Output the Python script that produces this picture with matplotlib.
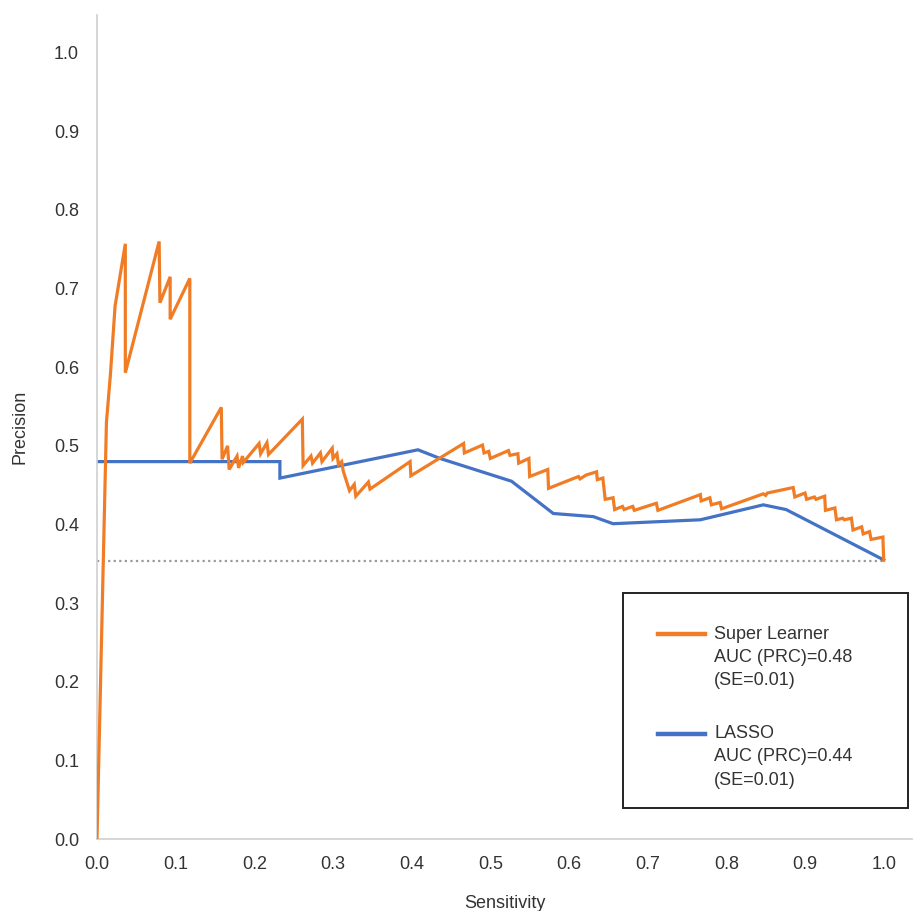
"""
Precision-recall curves: Super Learner vs LASSO.

Writes out.png
"""

import matplotlib

matplotlib.use("Agg")
import matplotlib.pyplot as plt
from matplotlib.lines import Line2D
from matplotlib.patches import Rectangle

# Super Learner PR curve (sensitivity, precision).
sl_sensitivity = [
    0.000, 0.012, 0.017, 0.023, 0.036, 0.036, 0.079, 0.080, 0.093, 0.093,
    0.118, 0.118, 0.158, 0.159, 0.166, 0.168, 0.178, 0.180, 0.185, 0.186,
    0.206, 0.208, 0.216, 0.218, 0.261, 0.262, 0.272, 0.274, 0.284, 0.286,
    0.299, 0.300, 0.305, 0.307, 0.311, 0.313, 0.321, 0.327, 0.329, 0.345,
    0.347, 0.398, 0.399, 0.466, 0.467, 0.490, 0.492, 0.498, 0.500, 0.523,
    0.525, 0.535, 0.536, 0.549, 0.550, 0.573, 0.574, 0.612, 0.614, 0.622,
    0.635, 0.636, 0.643, 0.646, 0.656, 0.658, 0.668, 0.670, 0.681, 0.683,
    0.711, 0.713, 0.767, 0.768, 0.779, 0.781, 0.792, 0.794, 0.847, 0.850,
    0.852, 0.885, 0.887, 0.900, 0.902, 0.912, 0.914, 0.925, 0.926, 0.938,
    0.940, 0.948, 0.950, 0.959, 0.961, 0.972, 0.974, 0.982, 0.984, 0.999,
    1.000,
]
sl_precision = [
    0.000, 0.530, 0.590, 0.678, 0.757, 0.593, 0.760, 0.682, 0.715, 0.661,
    0.713, 0.478, 0.549, 0.483, 0.500, 0.470, 0.487, 0.472, 0.487, 0.479,
    0.503, 0.490, 0.504, 0.489, 0.534, 0.475, 0.487, 0.478, 0.491, 0.480,
    0.497, 0.484, 0.490, 0.476, 0.480, 0.468, 0.443, 0.451, 0.436, 0.454,
    0.445, 0.480, 0.462, 0.503, 0.491, 0.501, 0.491, 0.493, 0.484, 0.494,
    0.488, 0.490, 0.478, 0.484, 0.461, 0.470, 0.446, 0.461, 0.458, 0.463,
    0.467, 0.457, 0.459, 0.432, 0.434, 0.419, 0.423, 0.419, 0.423, 0.418,
    0.427, 0.418, 0.438, 0.430, 0.434, 0.425, 0.428, 0.420, 0.439, 0.437,
    0.440, 0.447, 0.435, 0.440, 0.432, 0.435, 0.432, 0.436, 0.418, 0.421,
    0.406, 0.408, 0.406, 0.408, 0.393, 0.397, 0.388, 0.391, 0.381, 0.384,
    0.355,
]

# LASSO PR curve.
lasso_sensitivity = [0.000, 0.2325, 0.2325, 0.408, 0.436, 0.527, 0.580,
                     0.631, 0.656, 0.767, 0.847, 0.876, 1.000]
lasso_precision = [0.480, 0.480, 0.459, 0.495, 0.484, 0.455, 0.414,
                   0.410, 0.401, 0.406, 0.425, 0.419, 0.355]

# No-skill baseline (outcome prevalence).
prevalence = 0.354

sl_label = ["Super Learner", "AUC (PRC)=0.48", "(SE=0.01)"]
lasso_label = ["LASSO", "AUC (PRC)=0.44", "(SE=0.01)"]

ORANGE = "#F07D26"
BLUE = "#4472C4"
TEXT = "#333333"


def main():
    plt.rcParams["font.family"] = ["Liberation Sans", "DejaVu Sans"]

    fig = plt.figure(figsize=(9.14, 9.11), dpi=100)
    ax = fig.add_axes([97 / 914, 72 / 911, 815 / 914, 824 / 911])

    ax.plot([0, 1], [prevalence, prevalence], color="#9a9a9a", linewidth=1.6,
            linestyle=(0, (1, 1.5)), zorder=1)
    ax.plot(lasso_sensitivity, lasso_precision, color=BLUE, linewidth=2.3,
            zorder=2, solid_joinstyle="miter")
    ax.plot(sl_sensitivity, sl_precision, color=ORANGE, linewidth=2.3,
            zorder=3, solid_joinstyle="miter")

    ax.set_xlim(0, 1.036)
    ax.set_ylim(0, 1.048)
    ax.set_xticks([i / 10 for i in range(11)])
    ax.set_yticks([i / 10 for i in range(11)])
    ax.xaxis.set_major_formatter(matplotlib.ticker.FormatStrFormatter("%.1f"))
    ax.yaxis.set_major_formatter(matplotlib.ticker.FormatStrFormatter("%.1f"))
    ax.tick_params(length=0, labelsize=13, labelcolor=TEXT)
    ax.tick_params(axis="x", pad=12)
    ax.tick_params(axis="y", pad=13)

    for side in ("top", "right"):
        ax.spines[side].set_visible(False)
    for side in ("left", "bottom"):
        ax.spines[side].set_color("#cfcfcf")
        ax.spines[side].set_linewidth(1.2)

    ax.set_xlabel("Sensitivity", fontsize=13, color=TEXT, labelpad=16)
    ax.set_ylabel("Precision", fontsize=13, color=TEXT, labelpad=18)

    # Legend box drawn by hand so the handle sits on the first text line.
    tr = ax.transAxes
    ax.add_patch(Rectangle((0.6454, 0.0376), 0.3497, 0.2609, transform=tr,
                           fill=False, edgecolor="#222222", linewidth=1.4,
                           zorder=5, clip_on=False))
    step = 23.3 / 824
    for y0, color, lines in ((0.2485, ORANGE, sl_label),
                             (0.1280, BLUE, lasso_label)):
        ax.add_line(Line2D([0.6883, 0.7460], [y0, y0], transform=tr,
                           color=color, linewidth=3.2, zorder=6,
                           clip_on=False))
        for i, s in enumerate(lines):
            ax.text(0.7571, y0 - i * step, s, transform=tr, fontsize=13,
                    color=TEXT, va="center", ha="left", zorder=6)

    fig.savefig("out.png", dpi=100)
    plt.close(fig)


if __name__ == "__main__":
    main()
